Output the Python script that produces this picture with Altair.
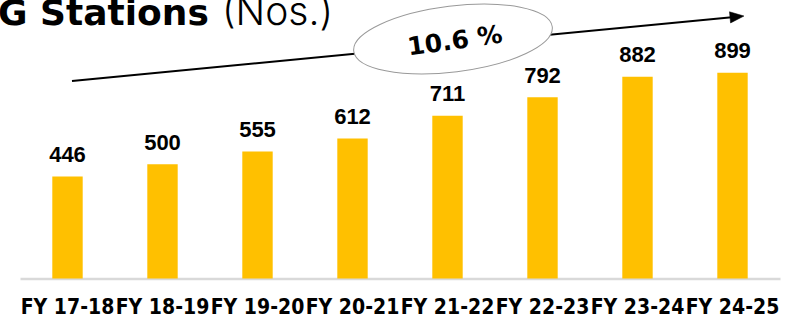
import altair as alt
import pandas as pd

years = ["FY 17-18", "FY 18-19", "FY 19-20", "FY 20-21", "FY 21-22", "FY 22-23", "FY 23-24", "FY 24-25"]
stations = [446, 500, 555, 612, 711, 792, 882, 899]
cagr_label = ["10.6 %"]
title_bold = ["G Stations"]
title_unit = ["(Nos.)"]

df = pd.DataFrame({"year": years, "stations": stations})

x = alt.X(
    "year:N",
    sort=years,
    scale=alt.Scale(paddingInner=0.68, paddingOuter=0.34),
    axis=alt.Axis(
        title=None, ticks=False, labelAngle=0, labelOverlap=False,
        labelFont="DejaVu Sans Condensed", labelFontWeight="bold", labelFontSize=21,
        labelColor="#000000", labelPadding=18, domainColor="#d9d9d9", domainWidth=2.5,
        labelBound=False, labelFlush=False, grid=False,
    ),
)
y = alt.Y("stations:Q", scale=alt.Scale(domain=[0, 1200], nice=False, zero=True), axis=None)

base = alt.Chart(df)
bars = base.mark_bar(color="#FFC000").encode(x=x, y=y)
labels = base.mark_text(
    font="Liberation Sans", fontWeight="bold", fontSize=22, baseline="alphabetic",
    dy=-14.5, color="#000000",
).encode(x=x, y=y, text="stations:Q")

one = pd.DataFrame({"k": [0]})

rule = alt.Chart(one).mark_rule(color="black", strokeWidth=2).encode(
    x=alt.value(52), y=alt.value(77), x2=alt.value(717), y2=alt.value(12.7)
)
head = alt.Chart(one).mark_point(
    shape="M 1 0 L -1 -0.8 L -1 0.8 Z", filled=True, fill="black", stroke="black",
    strokeWidth=0.5, size=196, angle=354.5, opacity=1,
).encode(x=alt.value(717), y=alt.value(12.7))

ellipse_path = ("M -1 0 C -1 -0.1823 -0.5523 -0.33 0 -0.33 C 0.5523 -0.33 1 -0.1823 1 0 "
                "C 1 0.1823 0.5523 0.33 0 0.33 C -0.5523 0.33 -1 0.1823 -1 0 Z")
ellipse = alt.Chart(one).mark_point(
    shape=ellipse_path, filled=True, fill="white", stroke="#999999", strokeWidth=1,
    size=40000, angle=353, opacity=1,
).encode(x=alt.value(433), y=alt.value(35))

cagr = alt.Chart(pd.DataFrame({"label": cagr_label})).mark_text(
    font="DejaVu Sans", fontWeight="bold", fontSize=25, angle=352, align="center",
    baseline="middle", color="black",
).encode(x=alt.value(435), y=alt.value(37), text="label:N")

t1 = alt.Chart(pd.DataFrame({"label": title_bold})).mark_text(
    font="DejaVu Sans", fontWeight="bold", fontSize=36, align="left", baseline="alphabetic", color="black",
).encode(x=alt.value(-22), y=alt.value(21), text="label:N")

t2 = alt.Chart(pd.DataFrame({"label": title_unit})).mark_text(
    font="Inter", fontWeight=300, fontSize=39, align="left", baseline="alphabetic", color="black",
).encode(x=alt.value(202), y=alt.value(21), text="label:N")

chart = alt.layer(bars, labels, rule, head, ellipse, cagr, t1, t2).properties(
    width=760, height=274.5,
    autosize=alt.AutoSizeParams(type="none"),
    padding={"left": 20, "top": 4, "right": 18, "bottom": 42.5},
).configure_view(stroke=None)

chart.save("out.html", embed_options={"renderer": "svg", "actions": False})
